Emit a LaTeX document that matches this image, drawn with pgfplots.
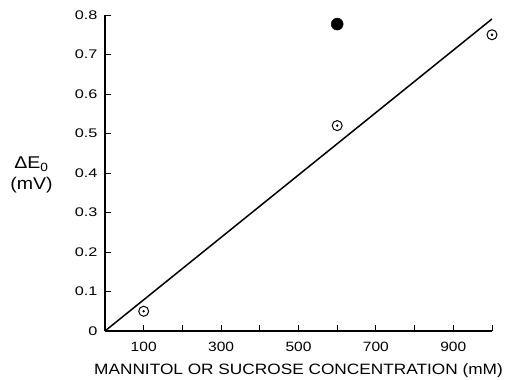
\documentclass[border=0pt]{standalone}
\usepackage{fontspec}
\setmainfont{Liberation Sans}[FakeStretch=1.15]
\newfontfamily\yfont{Liberation Sans}[FakeStretch=1.3]
\usepackage{pgfplots}
\pgfplotsset{compat=1.18}
\begin{document}
\begin{tikzpicture}
\useasboundingbox (-105pt,-49pt) rectangle (402pt,331pt);
\begin{axis}[
  at={(0,0)}, anchor=south west,
  scale only axis, width=387pt, height=316pt,
  xmin=0, xmax=1000, ymin=0, ymax=0.8,
  axis x line=bottom, axis y line=left,
  axis line style={-, line width=1.1pt},
  tick style={line width=0.9pt, black},
  tick align=inside, major tick length=6pt,
  xtick={100,200,...,1000},
  xticklabels={},
  ytick={0,0.1,...,0.8},
  yticklabels={},
  xlabel={MANNITOL OR SUCROSE CONCENTRATION (mM)},
  xlabel style={font=\fontsize{15}{17}\selectfont, at={(axis description cs:0.5,0)}, anchor=center, yshift=-40pt},
  clip=false,
]
\addplot[black, line width=1.5pt, no marks] coordinates {(0,0) (1000,0.79)};
\addplot[only marks, mark=o, mark size=5pt, mark options={line width=1pt, black}] coordinates {(100,0.05) (600,0.52) (1000,0.75)};
\addplot[only marks, mark=*, mark size=1pt, black] coordinates {(100,0.05) (600,0.52) (1000,0.75)};
\addplot[only marks, mark=*, mark size=6pt, black] coordinates {(600,0.777)};
\pgfplotsinvokeforeach{100,300,500,700,900}{
  \node[font=\fontsize{13.5}{15}\selectfont, anchor=center, yshift=-16pt] at (axis cs:#1,0) {#1};
}
\pgfplotsinvokeforeach{0,0.1,0.2,0.3,0.4,0.5,0.6,0.7,0.8}{
  \node[font=\yfont\fontsize{12.5}{15}\selectfont, anchor=east, xshift=-4pt] at (axis cs:0,#1) {#1};
}
\node[align=center, font=\fontsize{17}{23}\selectfont] at (axis description cs:-0.19,0.494) {ΔE\textsubscript{0}\\[-2pt](mV)};
\end{axis}
\end{tikzpicture}
\end{document}
